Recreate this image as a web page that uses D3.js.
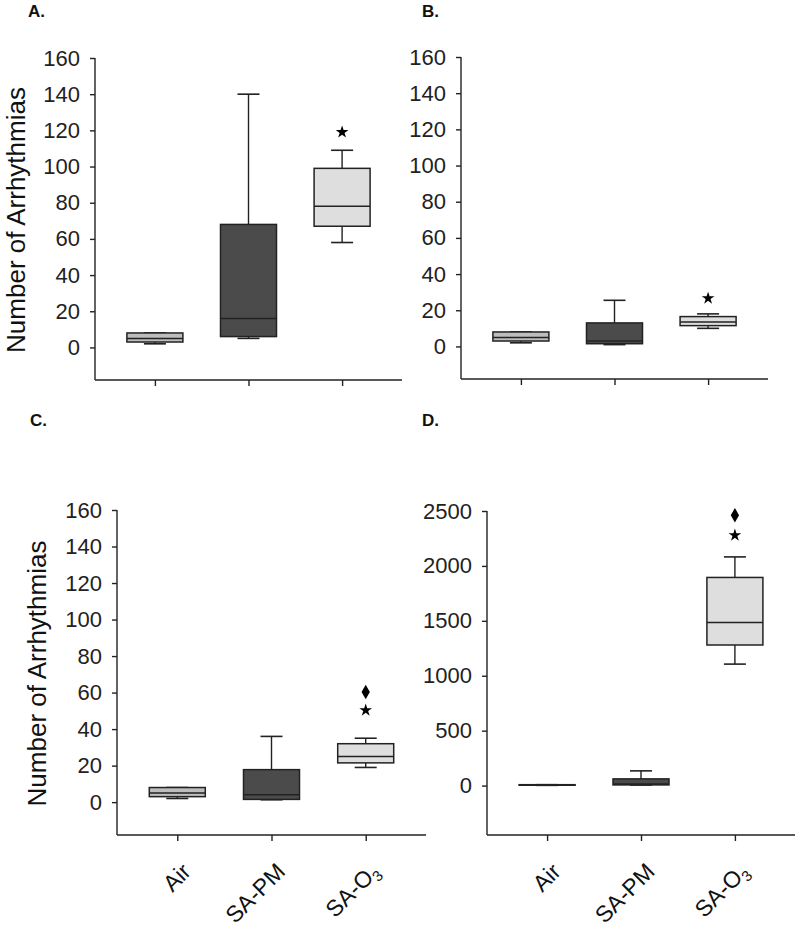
<!DOCTYPE html>
<html>
<head>
<meta charset="utf-8">
<script src="https://cdn.jsdelivr.net/npm/d3@7"></script>
<style>
  body { margin: 0; background: #fff; }
  text { font-family: "Liberation Sans", Arial, sans-serif; }
</style>
</head>
<body>
<div id="chart"></div>
<script>
// --- Data: [min, q1, median, q3, max] per group ---
const groups = ["Air", "SA-PM", "SA-O3"];
const fills = ["#bdbdbd", "#4b4b4b", "#dedede"];

const statsA = [[2, 3, 5, 8, 8], [5, 6, 16, 68, 140], [58, 67, 78, 99, 109]];
const statsB = [[2, 3, 5, 8, 8], [1, 1.5, 3, 13, 25.5], [10, 11.5, 13.5, 16.5, 18]];
const statsC = [[2, 3, 5, 8, 8], [1.3, 1.5, 4, 17.8, 36], [19, 21.5, 25, 32, 35]];
const statsD = [[2, 3, 5, 8, 8], [5, 6, 15, 61, 134], [1106, 1280, 1485, 1895, 2082]];

// significance markers: [group, value, symbol]
const marksA = [["SA-O3", 119, "star"]];
const marksB = [["SA-O3", 26.6, "star"]];
const marksC = [["SA-O3", 50.3, "star"], ["SA-O3", 60.3, "diamond"]];
const marksD = [["SA-O3", 2279, "star"], ["SA-O3", 2461, "diamond"]];

const ticksSmall = [0, 20, 40, 60, 80, 100, 120, 140, 160];
const ticksLarge = [0, 500, 1000, 1500, 2000, 2500];

const yTitle = "Number of Arrhythmias";

// --- Layout ---
const W = 800, H = 930;
const svg = d3.select("#chart").append("svg").attr("width", W).attr("height", H);

const panels = [
  { label: "A.", lx: 28, ly: 17, x0: 95, x1: 402, top: 58, bottom: 380, domain: [-18, 160], ticks: ticksSmall, stats: statsA, marks: marksA, title: true, titleX: 25, xlabels: false },
  { label: "B.", lx: 422, ly: 17, x0: 461, x1: 768, top: 57, bottom: 379, domain: [-18, 160], ticks: ticksSmall, stats: statsB, marks: marksB, title: false, xlabels: false },
  { label: "C.", lx: 30, ly: 426, x0: 117, x1: 426, top: 510, bottom: 835, domain: [-18, 160], ticks: ticksSmall, stats: statsC, marks: marksC, title: true, titleX: 46, xlabels: true },
  { label: "D.", lx: 422, ly: 426, x0: 487, x1: 795, top: 511, bottom: 835, domain: [-450, 2500], ticks: ticksLarge, stats: statsD, marks: marksD, title: false, xlabels: true }
];

const boxW = 56, capW = 22;

panels.forEach(p => {
  const g = svg.append("g");
  const x = d3.scalePoint().domain(groups).range([p.x0, p.x1]).padding(0.64);
  const y = d3.scaleLinear().domain(p.domain).range([p.bottom, p.top]);

  // panel letter
  g.append("text").attr("x", p.lx).attr("y", p.ly)
    .attr("font-size", 17).attr("font-weight", "bold").attr("fill", "#111").text(p.label);

  // y axis
  const ya = g.append("g").attr("transform", `translate(${p.x0},0)`)
    .call(d3.axisLeft(y).tickValues(p.ticks).tickFormat(d3.format("d"))
      .tickSize(5).tickSizeOuter(0).tickPadding(10));
  ya.attr("font-size", 22).attr("font-family", "'Liberation Sans', Arial, sans-serif");
  ya.select(".domain").attr("d", `M0,${p.top}V${p.bottom}`);
  ya.selectAll("path, line").attr("stroke", "#222").attr("stroke-width", 1.4);
  ya.selectAll("text").attr("fill", "#222");

  // x axis
  const xa = g.append("g").attr("transform", `translate(0,${p.bottom})`)
    .call(d3.axisBottom(x).tickSize(6).tickSizeOuter(0).tickFormat(""));
  xa.select(".domain").attr("d", `M${p.x0},0H${p.x1}`);
  xa.selectAll("path, line").attr("stroke", "#222").attr("stroke-width", 1.4);

  if (p.xlabels) {
    groups.forEach(name => {
      const t = g.append("text")
        .attr("text-anchor", "end")
        .attr("font-size", 23).attr("fill", "#111")
        .attr("transform", `translate(${x(name) + 15},${p.bottom + 38}) rotate(-45)`);
      if (name === "SA-O3") {
        t.append("tspan").text("SA-O");
        t.append("tspan").attr("font-size", 15).attr("dy", 5).text("3");
      } else {
        t.text(name);
      }
    });
  }

  if (p.title) {
    g.append("text")
      .attr("transform", `translate(${p.titleX},${(p.top + p.bottom) / 2 + 1}) rotate(-90)`)
      .attr("text-anchor", "middle").attr("font-size", 26).attr("fill", "#111")
      .text(yTitle);
  }

  // boxes
  const bx = g.selectAll("g.box").data(p.stats.map((s, i) => ({ name: groups[i], s, fill: fills[i] })))
    .join("g").attr("class", "box");

  bx.append("line") // upper whisker
    .attr("x1", d => x(d.name)).attr("x2", d => x(d.name))
    .attr("y1", d => y(d.s[3])).attr("y2", d => y(d.s[4]))
    .attr("stroke", "#222").attr("stroke-width", 1.4);
  bx.append("line") // lower whisker
    .attr("x1", d => x(d.name)).attr("x2", d => x(d.name))
    .attr("y1", d => y(d.s[1])).attr("y2", d => y(d.s[0]))
    .attr("stroke", "#222").attr("stroke-width", 1.4);
  bx.append("line") // top cap
    .attr("x1", d => x(d.name) - capW / 2).attr("x2", d => x(d.name) + capW / 2)
    .attr("y1", d => y(d.s[4])).attr("y2", d => y(d.s[4]))
    .attr("stroke", "#222").attr("stroke-width", 1.6);
  bx.append("line") // bottom cap
    .attr("x1", d => x(d.name) - capW / 2).attr("x2", d => x(d.name) + capW / 2)
    .attr("y1", d => y(d.s[0])).attr("y2", d => y(d.s[0]))
    .attr("stroke", "#222").attr("stroke-width", 1.6);
  bx.append("rect")
    .attr("x", d => x(d.name) - boxW / 2).attr("width", boxW)
    .attr("y", d => y(d.s[3])).attr("height", d => Math.max(0.5, y(d.s[1]) - y(d.s[3])))
    .attr("fill", d => d.fill).attr("stroke", "#222").attr("stroke-width", 1.5);
  bx.append("line") // median
    .attr("x1", d => x(d.name) - boxW / 2).attr("x2", d => x(d.name) + boxW / 2)
    .attr("y1", d => y(d.s[2])).attr("y2", d => y(d.s[2]))
    .attr("stroke", "#222").attr("stroke-width", 1.5);

  // markers
  g.selectAll("path.mark").data(p.marks).join("path").attr("class", "mark")
    .attr("transform", d => `translate(${x(d[0])},${y(d[1])})`)
    .attr("d", d => d[2] === "star"
      ? d3.symbol(d3.symbolStar, 50)()
      : d3.symbol(d3.symbolDiamond, 60)())
    .attr("fill", "#000");
});
</script>
</body>
</html>
